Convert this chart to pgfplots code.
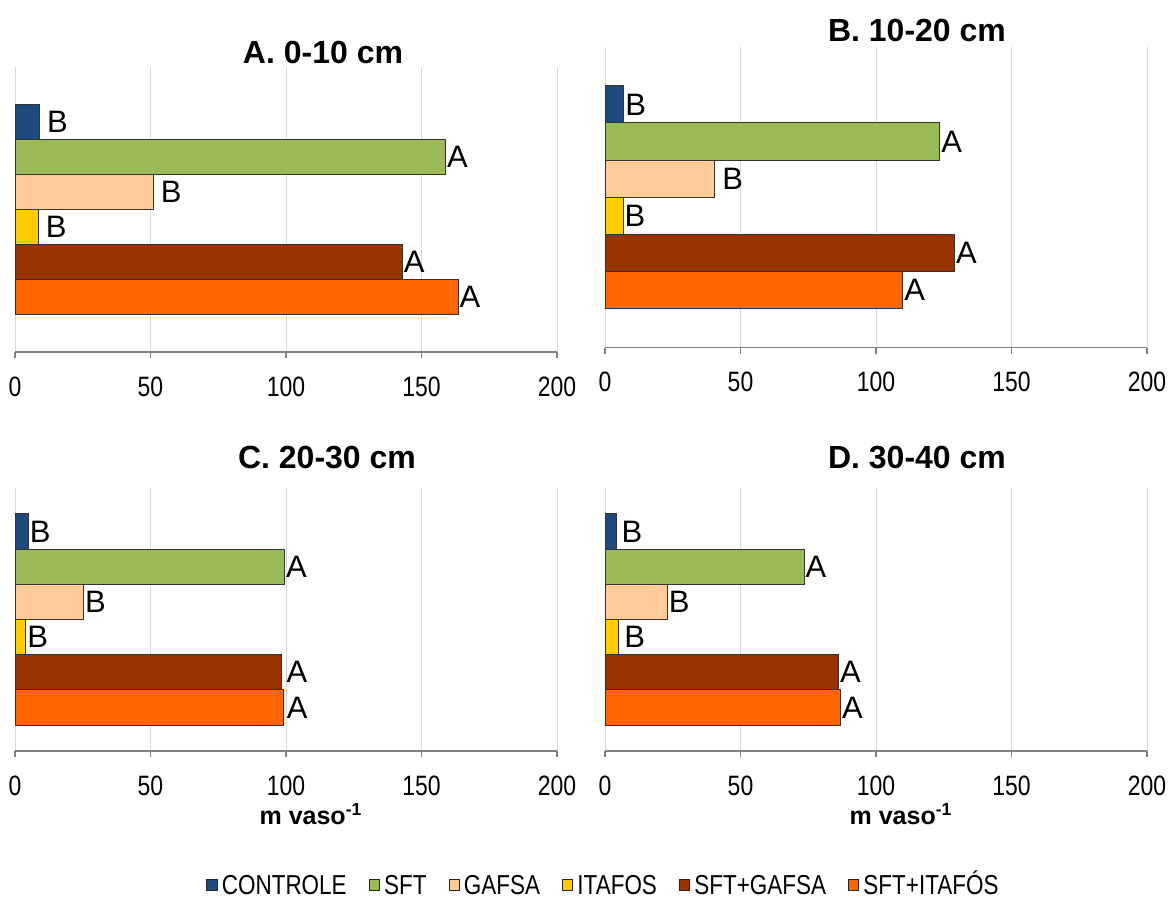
\documentclass[border=0pt]{standalone}
\usepackage{pgfplots}
\pgfplotsset{compat=1.18}
\usepackage{fontspec}
\setmainfont{Liberation Sans}
\usepackage{graphicx}
\definecolor{cCon}{HTML}{1F4A7E}
\definecolor{cSFT}{HTML}{9BBB59}
\definecolor{cGaf}{HTML}{FFCC99}
\definecolor{cIta}{HTML}{FFCC00}
\definecolor{cSG}{HTML}{993300}
\definecolor{cSI}{HTML}{FF6600}
\pgfplotsset{
  panel/.style={
    xbar, bar width=1, bar shift=0pt,
    scale only axis, width=271pt,
    xmin=0, xmax=200, xtick={0,50,100,150,200},
    y dir=reverse, ytick=\empty,
    axis x line*=bottom, axis y line=none,
    xmajorgrids, grid style={draw=black!15, line width=0.5pt},
    x axis line style={draw=black!50, line width=0.6pt},
    tick align=outside, major tick length=3pt,
    xtick style={draw=black!50, line width=0.6pt},
    /pgf/number format/assume math mode=true,
    xticklabel={\scalebox{0.82}[1]{\pgfmathprintnumber{\tick}}},
    xticklabel style={font=\fontsize{14}{14}\selectfont, anchor=center, inner sep=0pt, yshift=-14.3pt},
    nodes near coords, point meta=explicit symbolic,
    every node near coord/.append style={font=\fontsize{15.5}{15.5}\selectfont, anchor=west, inner sep=0.5pt, text=black},
    every axis plot/.append style={draw=black!80, line width=0.5pt},
    clip=false,
    every axis title/.style={at={(0.5,1)}, anchor=center, font=\bfseries\fontsize{16}{16}\selectfont},
    legend image code/.code={\draw[#1, draw=black!85, line width=0.5pt] (0pt,-2.6pt) rectangle (5.2pt,2.6pt);},
  },
  lowlab/.style={
    xlabel={m vaso\textsuperscript{-1}},
    xlabel style={at={(0.5,0)}, anchor=center, inner sep=0pt, yshift=-31.5pt, xshift=12.5pt, font=\bfseries\fontsize{12.5}{12.5}\selectfont},
  },
}
\begin{document}
\begin{tikzpicture}
\path[use as bounding box] (0,0) rectangle (586pt,449pt);
% Panel A
\begin{axis}[panel, at={(7.5pt,273pt)}, anchor=south west, height=142.5pt,
  ymin=-1.57, ymax=6.57,
  title={A. 0-10 cm}, title style={xshift=18.5pt, yshift=7.25pt}]
\addplot[fill=cCon] coordinates {(9.1,0) [\kern3pt B]};
\addplot[fill=cSFT] coordinates {(158.9,1) [A]};
\addplot[fill=cGaf] coordinates {(51.1,2) [\kern3pt B]};
\addplot[fill=cIta] coordinates {(8.6,3) [\kern3pt B]};
\addplot[fill=cSG] coordinates {(142.9,4) [A]};
\addplot[fill=cSI] coordinates {(163.5,5) [A]};
\end{axis}
% Panel B
\begin{axis}[panel, at={(302.5pt,275.15pt)}, anchor=south west, height=150.35pt,
  ymin=-1.545, ymax=6.545,
  title={B. 10-20 cm}, title style={xshift=20.5pt, yshift=8pt}]
\addplot[fill=cCon] coordinates {(7.0,0) [B]};
\addplot[fill=cSFT] coordinates {(123.6,1) [A]};
\addplot[fill=cGaf] coordinates {(40.5,2) [\kern3pt B]};
\addplot[fill=cIta] coordinates {(6.7,3) [B]};
\addplot[fill=cSG] coordinates {(129.0,4) [A]};
\addplot[fill=cSI] coordinates {(109.9,5) [A]};
\end{axis}
% Panel C
\begin{axis}[panel, lowlab, at={(7.5pt,73.5pt)}, anchor=south west, height=131.5pt,
  ymin=-1.235, ymax=6.235,
  title={C. 20-30 cm}, title style={xshift=20.5pt, yshift=15pt},
  legend columns=6,
  legend style={at={(1.0876,-0.5095)}, anchor=center, draw=none, fill=none,
    font=\fontsize{13.7}{13.7}\selectfont, inner sep=0pt,
    nodes={text height=10pt, text depth=0.5pt},
    /tikz/every even column/.append style={column sep=9pt}}]
\addplot[fill=cCon] coordinates {(4.9,0) [B]};
\addlegendentry{\scalebox{0.82}[1]{CONTROLE}}
\addplot[fill=cSFT] coordinates {(99.5,1) [A]};
\addlegendentry{\scalebox{0.82}[1]{SFT}}
\addplot[fill=cGaf] coordinates {(25.3,2) [B]};
\addlegendentry{\scalebox{0.82}[1]{GAFSA}}
\addplot[fill=cIta] coordinates {(4.0,3) [B]};
\addlegendentry{\scalebox{0.82}[1]{ITAFOS}}
\addplot[fill=cSG] coordinates {(98.2,4) [\kern2pt A]};
\addlegendentry{\scalebox{0.82}[1]{SFT+GAFSA}}
\addplot[fill=cSI] coordinates {(99.0,5) [\kern1pt A]};
\addlegendentry{\scalebox{0.82}[1]{SFT+ITAFÓS}}
\end{axis}
% Panel D
\begin{axis}[panel, lowlab, at={(302.5pt,73.5pt)}, anchor=south west, height=131.5pt,
  ymin=-1.235, ymax=6.235,
  title={D. 30-40 cm}, title style={xshift=20.5pt, yshift=15pt}]
\addplot[fill=cCon] coordinates {(4.1,0) [\kern2pt B]};
\addplot[fill=cSFT] coordinates {(73.5,1) [A]};
\addplot[fill=cGaf] coordinates {(23.0,2) [B]};
\addplot[fill=cIta] coordinates {(5.1,3) [\kern2pt B]};
\addplot[fill=cSG] coordinates {(86.2,4) [A]};
\addplot[fill=cSI] coordinates {(86.9,5) [A]};
\end{axis}
\end{tikzpicture}
\end{document}
